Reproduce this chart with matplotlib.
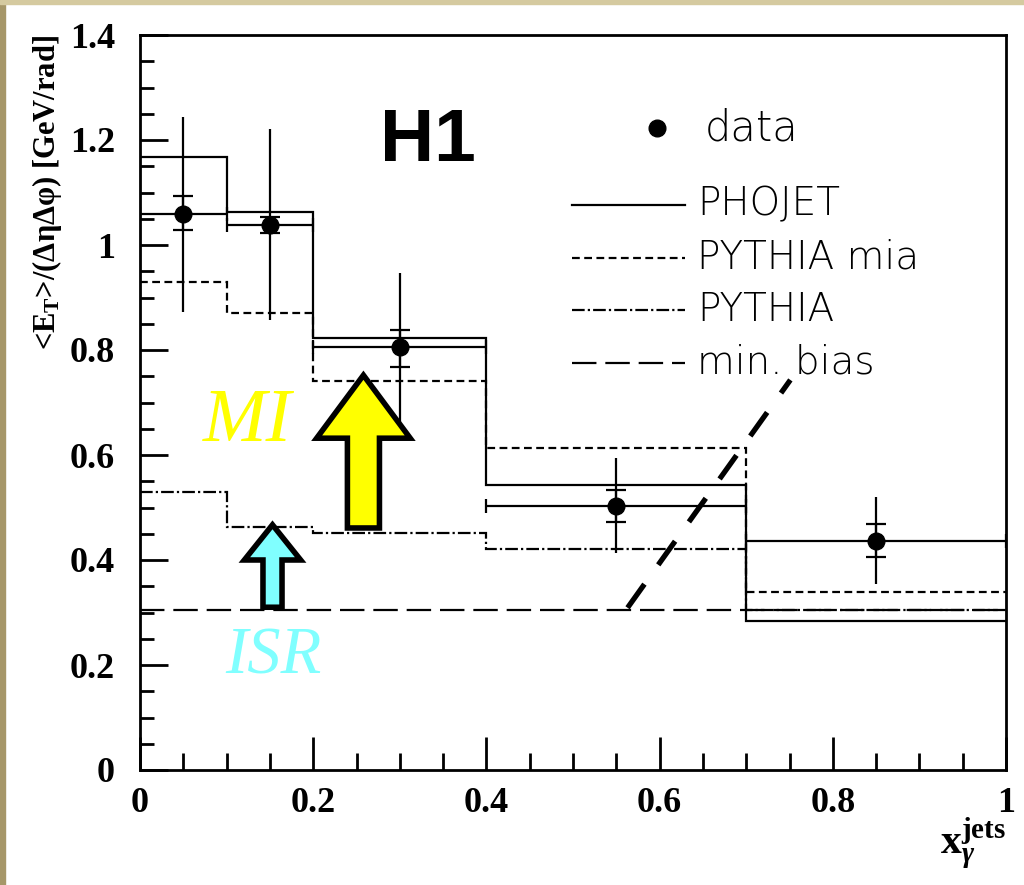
import numpy as np
import matplotlib
matplotlib.use("Agg")
import matplotlib.pyplot as plt
from matplotlib.patches import Rectangle, FancyArrow

plt.rcParams['mathtext.fontset'] = 'custom'
plt.rcParams['mathtext.rm'] = 'Liberation Serif:bold'
plt.rcParams['mathtext.it'] = 'Liberation Serif:italic:bold'
plt.rcParams['mathtext.bf'] = 'Liberation Serif:bold'

# bins in x_gamma^jets
edges = [0, 0.1, 0.2, 0.4, 0.7, 1.0]
x_data = [0.05, 0.15, 0.3, 0.55, 0.85]
y_data = [1.06, 1.038, 0.806, 0.503, 0.436]
stat_lo = [1.029, 1.023, 0.768, 0.472, 0.406]
stat_hi = [1.093, 1.053, 0.838, 0.533, 0.468]
tot_lo = [0.872, 0.857, 0.657, 0.413, 0.354]
tot_hi = [1.244, 1.221, 0.947, 0.594, 0.520]

phojet = [1.168, 1.063, 0.823, 0.543, 0.284]
pythia_mia = [0.930, 0.870, 0.741, 0.613, 0.340]
pythia = [0.530, 0.463, 0.451, 0.421, 0.305]
min_bias = [0.305, 0.305, 0.305, 0.305, 0.305]

fig = plt.figure(figsize=(10.24, 8.85), dpi=100)
ax = fig.add_axes([140/1024, 115/885, 866/1024, 735/885])

# slide background strips
fig.patches.append(Rectangle((0, 0), 5/1024, 1, transform=fig.transFigure, color='#a69769', zorder=-10))
fig.patches.append(Rectangle((0, 1 - 4/885), 1, 4/885, transform=fig.transFigure, color='#d5caa0', zorder=-10))

lw = 1.6
ax.stairs(phojet, edges, baseline=None, color='black', lw=lw)
ax.stairs(pythia_mia, edges, baseline=None, color='black', lw=lw, linestyle=(0, (3.5, 2)))
ax.stairs(pythia, edges, baseline=None, color='black', lw=lw, linestyle=(0, (5.7, 1.4, 1, 1.4)))
ax.stairs(min_bias, edges, baseline=None, color='black', lw=lw, linestyle=(0, (11, 4)))

x_data = np.array(x_data)
y_data = np.array(y_data)
xerr = np.array([x_data - np.array(edges[:-1]), np.array(edges[1:]) - x_data])
tot_err = np.array([y_data - np.array(tot_lo), np.array(tot_hi) - y_data])
stat_err = np.array([y_data - np.array(stat_lo), np.array(stat_hi) - y_data])

ax.errorbar(x_data, y_data, yerr=tot_err, fmt='none', ecolor='black', elinewidth=lw)
ax.errorbar(x_data, y_data, yerr=stat_err, fmt='none', ecolor='black', elinewidth=lw,
            capsize=7, capthick=lw)
ax.errorbar(x_data, y_data, xerr=xerr, fmt='o', color='black', ms=12, elinewidth=lw,
            capsize=5, capthick=lw)

# hand-drawn annotations
ax.plot([0.563, 0.751], [0.309, 0.743], color='black', lw=3.8, linestyle=(0, (5.5, 4.5)),
        solid_capstyle='butt')
ax.add_patch(FancyArrow(0.258, 0.461, 0, 0.291, width=0.037, head_width=0.108,
                        head_length=0.12, length_includes_head=True,
                        facecolor='#ffff00', edgecolor='black', lw=4, zorder=5))
ax.add_patch(FancyArrow(0.153, 0.31, 0, 0.157, width=0.022, head_width=0.065,
                        head_length=0.067, length_includes_head=True,
                        facecolor='#80ffff', edgecolor='black', lw=4, zorder=5))
ax.text(0.124, 0.661, 'MI', color='#ffff00', fontsize=55, family='Liberation Serif',
        style='italic', ha='center', va='center')
ax.text(0.154, 0.215, 'ISR', color='#80ffff', fontsize=48, family='Liberation Serif',
        style='italic', ha='center', va='center')
ax.text(0.333, 1.198, 'H1', fontsize=54, family='Liberation Sans', fontweight='bold',
        ha='center', va='center')

# legend drawn by hand to match spacing
lt = ax.transAxes
ax.plot([0.597], [0.873], 'o', color='black', ms=12, transform=lt)
ax.text(0.652, 0.873, 'data', transform=lt, fontsize=30, va='center', fontweight='light')
leg_y = [0.769, 0.697, 0.626, 0.554]
leg_lab = ['PHOJET', 'PYTHIA mia', 'PYTHIA', 'min. bias']
leg_ls = ['-', (0, (3.5, 2)), (0, (5.7, 1.4, 1, 1.4)), (0, (11, 4))]
for yy, lab, ls in zip(leg_y, leg_lab, leg_ls):
    ax.plot([0.499, 0.629], [yy, yy], color='black', lw=lw, linestyle=ls, transform=lt)
    ax.text(0.643, yy, lab, transform=lt, fontsize=28, va='center', fontweight='light')

ax.set_xlim(0, 1)
ax.set_ylim(0, 1.4)
ax.set_xticks(np.arange(0, 1.01, 0.2))
ax.set_xticks(np.arange(0, 1.01, 0.05), minor=True)
ax.set_yticks(np.arange(0, 1.41, 0.2))
ax.set_yticks(np.arange(0, 1.41, 0.05), minor=True)
ax.xaxis.set_major_formatter(plt.FuncFormatter(lambda v, p: '%g' % round(v, 2)))
ax.yaxis.set_major_formatter(plt.FuncFormatter(lambda v, p: '%g' % round(v, 2)))
ax.tick_params(which='both', direction='in', width=2, top=False, right=False)
ax.tick_params(axis='y', which='major', length=20, pad=18)
ax.tick_params(axis='y', which='minor', length=10)
ax.tick_params(axis='x', which='major', length=24, pad=12)
ax.tick_params(axis='x', which='minor', length=12)
for lab in ax.get_xticklabels() + ax.get_yticklabels():
    lab.set_family('Liberation Serif')
    lab.set_fontweight('bold')
    lab.set_fontsize(26)
for sp in ax.spines.values():
    sp.set_linewidth(2)

ax.set_ylabel(r'<E$_\mathrm{T}$>/(ΔηΔφ) [GeV/rad]', family='Liberation Serif',
              fontweight='bold', fontsize=22, loc='top')
ax.yaxis.set_label_coords(-0.088, 1.0)
ax.set_xlabel(r'$\mathrm{x}_\gamma^\mathrm{jets}$', fontsize=30, loc='right')
ax.xaxis.set_label_coords(1.0, -0.062)

fig.savefig('out.png', dpi=100)
